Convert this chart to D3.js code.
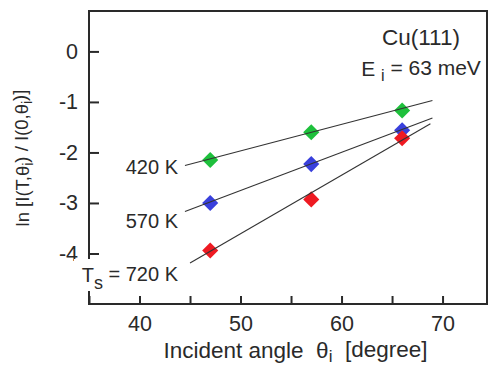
<!DOCTYPE html>
<html><head><meta charset="utf-8">
<script src="https://cdn.jsdelivr.net/npm/d3@7"></script>
<style>body{margin:0;background:#fff}svg{display:block}text{font-family:"Liberation Sans",Arial,sans-serif}</style>
</head><body>
<svg id="c" width="488" height="368"></svg>
<script>
const angles = [47, 57, 66];
const temps = ["420 K", "570 K", "720 K"];
const colors = ["#1ec03c", "#3940dc", "#ee1a22"];
const values420 = [-2.15, -1.60, -1.17];
const values570 = [-3.00, -2.23, -1.56];
const values720 = [-3.94, -2.93, -1.72];
const fitStart = [[44.5, -2.26], [44.5, -3.17], [45.0, -4.19]];
const fitEnd = [[69.0, -0.97], [69.0, -1.32], [68.8, -1.43]];
const xTicks = [40, 50, 60, 70];
const xMinor = [35, 45, 55, 65];
const yTicks = [0, -1, -2, -3, -4];

const series = [values420, values570, values720];
const svg = d3.select("#c");
const L = 89, R = 487, T = 11, B = 304;
const x = d3.scaleLinear().domain([35, 74.4]).range([L, R]);
const y = d3.scaleLinear().domain([0.8, -5]).range([T, B]);
const ink = "#2a2a2a";

// fit lines + markers
series.forEach((vals, i) => {
  const g = svg.append("g");
  g.selectAll("path.m").data(vals).enter().append("path")
    .attr("d", d3.symbol(d3.symbolSquare, 130)())
    .attr("transform", (d, j) => `translate(${x(angles[j])},${y(d)}) rotate(45)`)
    .attr("fill", colors[i]);
  g.append("line")
    .attr("x1", x(fitStart[i][0])).attr("y1", y(fitStart[i][1]))
    .attr("x2", x(fitEnd[i][0])).attr("y2", y(fitEnd[i][1]))
    .attr("stroke", "#333").attr("stroke-width", 1.1);
});

// axes
const xAxis = d3.axisBottom(x).tickValues(xTicks.concat(xMinor)).tickSize(-8).tickFormat(d => xTicks.includes(d) ? d : "");
const gx = svg.append("g").attr("transform", `translate(0,${B})`).call(xAxis);
gx.select(".domain").remove();
gx.selectAll(".tick line").attr("stroke", ink).attr("stroke-width", 2);
gx.selectAll(".tick text").attr("font-size", 21.5).attr("fill", ink).attr("dy", "1.0em").attr("y", 5);

const yAxis = d3.axisLeft(y).tickValues(yTicks).tickSize(-10).tickFormat(d => d === 0 ? "0" : "-" + Math.abs(d));
const gy = svg.append("g").attr("transform", `translate(${L},0)`).call(yAxis);
gy.select(".domain").remove();
gy.selectAll(".tick line").attr("stroke", ink).attr("stroke-width", 2);
gy.selectAll(".tick text").attr("font-size", 21.5).attr("fill", ink).attr("x", -11);

// frame
svg.append("rect").attr("x", L).attr("y", T).attr("width", R - L).attr("height", B - T)
  .attr("fill", "none").attr("stroke", ink).attr("stroke-width", 2);

// temperature labels
const labelY = [167, 221, 276];
svg.append("rect").attr("x", 74).attr("y", 259).attr("width", 106).attr("height", 32).attr("fill", "#fff");
[0, 1].forEach(i => {
  svg.append("text").attr("x", 178).attr("y", labelY[i]).attr("dy", "0.35em")
    .attr("text-anchor", "end").attr("font-size", 20).attr("fill", ink).text(temps[i]);
});
const t3 = svg.append("text").attr("x", 178).attr("y", labelY[2]).attr("dy", "0.3em")
  .attr("text-anchor", "end").attr("font-size", 20).attr("fill", ink);
t3.append("tspan").text("T");
t3.append("tspan").attr("font-size", 18).attr("dy", "0.4em").text("s");
t3.append("tspan").attr("dy", "-0.4em").text(" = " + temps[2]);

// annotation
svg.append("text").attr("x", 421).attr("y", 45).attr("text-anchor", "middle")
  .attr("font-size", 22.5).attr("fill", ink).text("Cu(111)");
const e = svg.append("text").attr("x", 421).attr("y", 76).attr("text-anchor", "middle")
  .attr("font-size", 21).attr("fill", ink).attr("xml:space", "preserve");
e.append("tspan").text("E ");
e.append("tspan").attr("font-size", 16).attr("dy", "0.3em").text("i");
e.append("tspan").attr("dy", "-0.3em").text(" = 63 meV");

// axis titles
const xt = svg.append("text").attr("x", 295.5).attr("y", 358).attr("text-anchor", "middle")
  .attr("font-size", 22.5).attr("fill", ink).attr("xml:space", "preserve");
xt.append("tspan").text("Incident angle  θ");
xt.append("tspan").attr("font-size", 17).attr("dy", "0.25em").text("i");
xt.append("tspan").attr("dy", "-0.25em").text("  [degree]");

const yt = svg.append("text").attr("transform", "translate(29,158) rotate(-90)").attr("text-anchor", "middle")
  .attr("font-size", 18.5).attr("fill", ink);
yt.append("tspan").text("ln [I(T,θ");
yt.append("tspan").attr("font-size", 14).attr("dy", "0.3em").text("i");
yt.append("tspan").attr("dy", "-0.3em").text(") / I(0,θ");
yt.append("tspan").attr("font-size", 14).attr("dy", "0.3em").text("i");
yt.append("tspan").attr("dy", "-0.3em").text(")]");
</script>
</body></html>
